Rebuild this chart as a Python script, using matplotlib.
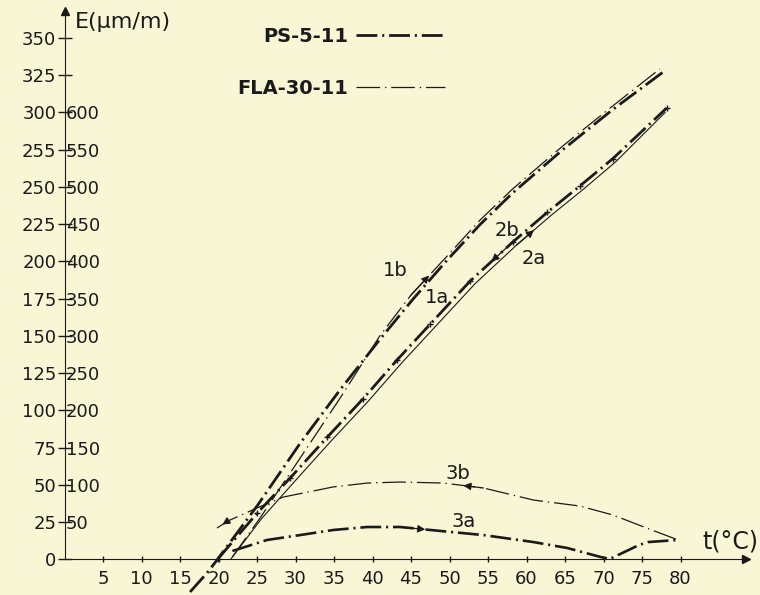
import matplotlib
matplotlib.use("Agg")
import matplotlib.pyplot as plt
from matplotlib.lines import Line2D

# ---- data (t in degC, E in um/m, left scale) ----
t_1a = [16.3, 18.5, 19.9, 25.1, 30.6, 35.8, 41.0, 45.3, 49.7, 54.0, 58.2, 64.7, 71.2, 77.7]
e_1a = [-21.8, -9.1, 0.3, 36.6, 78.0, 114.0, 148.0, 175.0, 201.0, 225.0, 246.0, 275.0, 302.0, 327.0]

t_1b = [21.8, 25.4, 30.6, 35.8, 41.0, 45.0, 49.7, 54.0, 58.2, 64.7, 71.2, 77.3]
e_1b = [1.7, 27.9, 68.1, 108.4, 150.5, 177.5, 203.7, 228.0, 248.7, 277.5, 304.4, 329.2]

t_2a = [19.9, 25.0, 29.3, 34.1, 38.8, 43.2, 47.5, 52.7, 58.2, 62.7, 67.0, 71.2, 78.2]
e_2a = [0.3, 31.0, 54.7, 82.0, 108.0, 134.0, 158.0, 187.0, 213.0, 233.0, 251.0, 269.0, 303.0]

t_2b = [21.6, 25.6, 29.9, 34.7, 39.4, 43.8, 48.1, 53.3, 58.7, 63.2, 67.5, 71.6, 78.0]
e_2b = [0.3, 27.5, 52.5, 80.0, 106.0, 132.0, 156.0, 185.0, 211.0, 231.0, 249.0, 267.0, 300.0]

t_3a = [21.8, 26.3, 30.6, 34.9, 39.3, 43.6, 50.1, 54.4, 60.9, 65.3, 69.6, 70.8, 74.6, 75.8, 79.7]
e_3a = [5.7, 13.1, 16.4, 19.8, 21.8, 21.8, 18.5, 16.4, 11.7, 7.7, 1.7, 0.3, 9.7, 11.7, 13.1]

t_3b = [19.8, 21.2, 25.0, 28.4, 34.9, 39.3, 43.6, 49.2, 54.4, 60.9, 66.9, 71.2, 75.6, 79.7]
e_3b = [21.1, 25.8, 34.6, 41.9, 48.7, 51.3, 52.0, 51.3, 48.0, 39.9, 35.9, 29.9, 21.1, 13.1]

x_ticks = [5, 10, 15, 20, 25, 30, 35, 40, 45, 50, 55, 60, 65, 70, 75, 80]
y_ticks = [0, 25, 50, 75, 100, 125, 150, 175, 200, 225, 250, 275, 300, 325, 350]
y_labels = ['0', '25', '50', '75', '100', '125', '150', '175', '200', '225', '250', '255', '300', '325', '350']
y2_ticks = [50, 100, 150, 200, 250, 300, 350, 400, 450, 500, 550, 600]

curve_names = ['1b', '1a', '2b', '2a', '3b', '3a']
name_pos = [(42.9, 194.0), (48.4, 176.0), (57.5, 221.0), (60.9, 202.0), (51.1, 58.0), (51.8, 25.5)]

legend_names = ['PS-5-11', 'FLA-30-11']

BG = '#f9f6d6'
INK = '#1a1a1a'
PS_DASH = (15, 3.5, 1.5, 3.5)
FLA_DASH = (17, 3.5, 1, 3.5)

plt.rcParams['lines.scale_dashes'] = False
plt.rcParams['font.family'] = 'DejaVu Sans'


def arrow_on(ax, t, e, i, back=False, lw=0.9):
    # small arrow head on segment i of a curve, showing run direction
    a, b = (i + 1, i) if back else (i, i + 1)
    mx = (t[a] + t[b]) / 2
    my = (e[a] + e[b]) / 2
    ax.annotate('', xy=(mx, my), xytext=(t[a], e[a]),
                arrowprops=dict(arrowstyle='-|>', color=INK, lw=lw,
                                mutation_scale=11, shrinkA=0, shrinkB=0))


fig = plt.figure(figsize=(7.6, 5.95), dpi=100)
fig.patch.set_facecolor(BG)
ax = fig.add_axes([0, 0, 1, 1])
ax.set_facecolor(BG)
ax.set_xlim(-8.38, 90.32)
ax.set_ylim(-23.83, 375.5)

# axes drawn as arrows through the origin
for side in ['top', 'right']:
    ax.spines[side].set_visible(False)
ax.spines['left'].set_position(('data', 0))
ax.spines['bottom'].set_position(('data', 0))
ax.spines['left'].set_bounds(0, 368)
ax.spines['bottom'].set_bounds(0, 88.5)
ax.spines['left'].set_color(INK)
ax.spines['bottom'].set_color(INK)
ax.plot(0, 368, '^', color=INK, ms=6, clip_on=False)
ax.plot(88.5, 0, '>', color=INK, ms=6, clip_on=False)

ax.set_xticks(x_ticks, labels=[str(v) for v in x_ticks])
ax.set_yticks(y_ticks, labels=y_labels)
ax.tick_params(axis='x', direction='inout', length=5, width=1, pad=5,
               labelsize=13, colors=INK)
ax.tick_params(axis='y', direction='inout', length=10, width=1, pad=1,
               labelsize=13, colors=INK)

sec = ax.secondary_yaxis(0, functions=(lambda e: e * 2, lambda v: v / 2),
                         transform=ax.transData)
sec.set_yticks(y2_ticks, labels=[str(v) for v in y2_ticks])
sec.set_alignment('right')
sec.spines['right'].set_visible(False)
sec.spines['left'].set_visible(False)
sec.tick_params(axis='y', length=0, pad=1, labelsize=13, colors=INK)

# curves
ax.plot(t_1a, e_1a, color=INK, lw=2.0, dashes=PS_DASH, clip_on=False)
ax.plot(t_1b, e_1b, color=INK, lw=0.9, dashes=FLA_DASH)
ax.plot(t_2a, e_2a, color=INK, lw=2.0, dashes=PS_DASH, marker='+', ms=4, mew=1)
ax.plot(t_2b, e_2b, color=INK, lw=0.8)
ax.plot(t_3a, e_3a, color=INK, lw=1.9, dashes=PS_DASH)
ax.plot(t_3b, e_3b, color=INK, lw=0.9, dashes=FLA_DASH)

arrow_on(ax, t_3b, e_3b, 0, back=True)
arrow_on(ax, t_3b, e_3b, 7, back=True)
arrow_on(ax, t_3a, e_3a, 5)
arrow_on(ax, t_1b, e_1b, 5)
arrow_on(ax, t_2b, e_2b, 8)
arrow_on(ax, t_2a, e_2a, 7, back=True)

for name, (x, y) in zip(curve_names, name_pos):
    ax.text(x, y, name, fontsize=14, color=INK, ha='center', va='center')

ax.text(1.4, 360.5, 'E(μm/m)', fontsize=16, color=INK, ha='left', va='center')
ax.text(82.9, 12.0, 't(°C)', fontsize=17, color=INK, ha='left', va='center')

handles = [Line2D([], [], color=INK, lw=2.0, dashes=PS_DASH),
           Line2D([], [], color=INK, lw=0.9, dashes=FLA_DASH)]
ax.legend(handles, legend_names, loc='upper left', bbox_to_anchor=(0.312, 0.955),
          frameon=False, markerfirst=False, handlelength=4.6, handletextpad=0.4,
          labelspacing=1.7, borderpad=0, borderaxespad=0,
          prop={'weight': 'bold', 'size': 14}, labelcolor=INK)

fig.savefig('out.png', dpi=100, facecolor=BG)
